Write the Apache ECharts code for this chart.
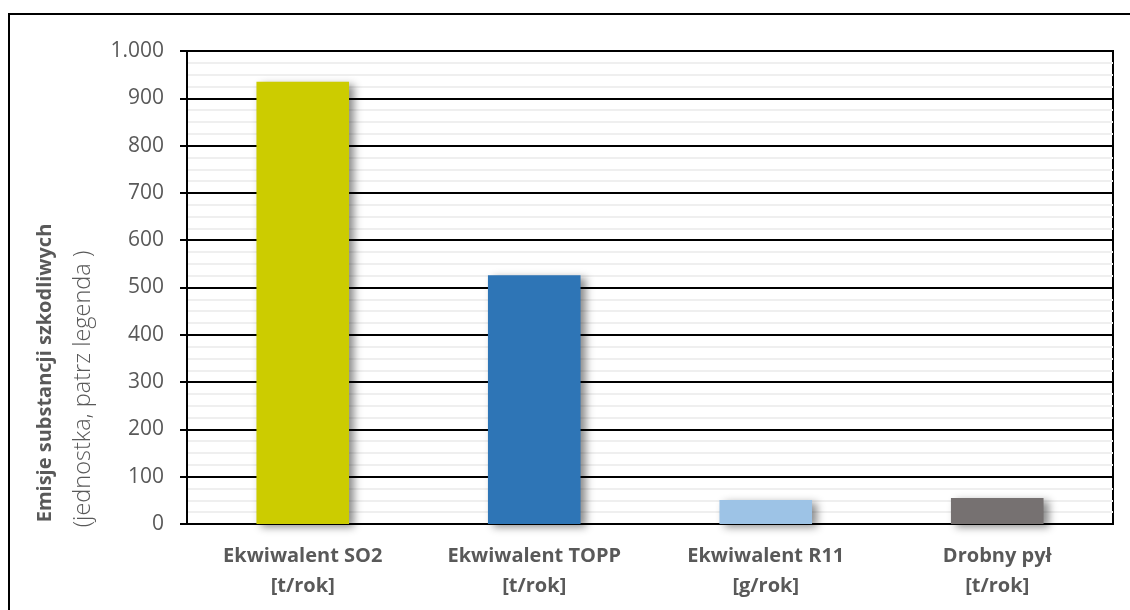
<!DOCTYPE html>
<html>
<head>
<meta charset="utf-8">
<script src="https://cdn.jsdelivr.net/npm/echarts@6/dist/echarts.min.js"></script>
<style>
  html, body { margin: 0; padding: 0; background: #fff; }
  #chart { width: 1130px; height: 610px; }
</style>
</head>
<body>
<div id="chart"></div>
<script>
// Emission categories (two-line labels) and values
const categories = ['Ekwiwalent SO2\n[t/rok]', 'Ekwiwalent TOPP\n[t/rok]', 'Ekwiwalent R11\n[g/rok]', 'Drobny pył\n[t/rok]'];
const values = [935, 526, 51, 55];
const barColors = ['#cccc00', '#2e75b6', '#9dc3e6', '#767171'];
const yMin = 0, yMax = 1000, yStep = 100;
const yTitle = 'Emisje substancji szkodliwych';
const ySubtitle = '(jednostka, patrz legenda )';

const textColor = '#595959';
const fontFamily = '"Open Sans", "DejaVu Sans", sans-serif';

const chart = echarts.init(document.getElementById('chart'));

chart.setOption({
  animation: false,
  backgroundColor: '#ffffff',
  grid: {
    left: 187, right: 17, top: 51, bottom: 86,
    outerBoundsMode: 'none', containLabel: false,
    show: true, borderColor: '#000', borderWidth: 2
  },
  graphic: [
    {
      type: 'rect',
      shape: { x: 9, y: 14, width: 1200, height: 700 },
      style: { fill: 'none', stroke: '#000', lineWidth: 2 },
      silent: true
    },
    {
      type: 'text', x: 45, y: 373, rotation: Math.PI / 2,
      style: {
        text: yTitle, fill: textColor, font: 'bold 20px ' + fontFamily,
        textAlign: 'center', textVerticalAlign: 'middle'
      },
      silent: true
    },
    {
      type: 'text', x: 83, y: 389, rotation: Math.PI / 2,
      style: {
        text: ySubtitle, fill: textColor, font: '300 23.5px ' + fontFamily,
        textAlign: 'center', textVerticalAlign: 'middle'
      },
      silent: true
    }
  ],
  xAxis: {
    type: 'category',
    data: categories,
    axisLine: { show: true, lineStyle: { color: '#000', width: 2 } },
    axisTick: { show: false },
    axisLabel: {
      color: textColor, fontFamily: fontFamily, fontSize: 20, fontWeight: 'bold',
      lineHeight: 30, margin: 17, interval: 0
    }
  },
  yAxis: {
    type: 'value',
    min: yMin, max: yMax, interval: yStep,
    axisLine: { show: true, lineStyle: { color: '#000', width: 2 } },
    axisTick: { show: true, length: 7, lineStyle: { color: '#000', width: 2 } },
    axisLabel: {
      color: textColor, fontFamily: fontFamily, fontSize: 21, margin: 23,
      formatter: v => String(v).replace(/\B(?=(\d{3})+(?!\d))/g, '.')
    },
    splitLine: { show: true, lineStyle: { color: '#000', width: 2 } },
    minorTick: { show: false, splitNumber: 4 },
    minorSplitLine: { show: true, lineStyle: { color: '#efefef', width: 2 } }
  },
  series: [{
    type: 'bar',
    barWidth: '40%',
    data: values.map((v, i) => ({
      value: v,
      itemStyle: {
        color: barColors[i],
        shadowColor: 'rgba(0,0,0,0.45)',
        shadowBlur: 8,
        shadowOffsetX: 5,
        shadowOffsetY: 3
      }
    }))
  }]
});
</script>
</body>
</html>
